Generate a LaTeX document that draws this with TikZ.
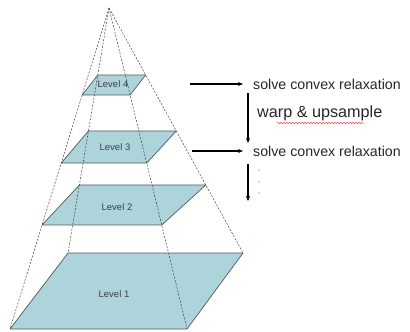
\documentclass[tikz,border=0pt]{standalone}
\usepackage{fontspec}
\setmainfont{Liberation Sans}
\usetikzlibrary{calc,arrows.meta,decorations.pathmorphing}
\definecolor{planefill}{RGB}{172,212,218}
\definecolor{planeedge}{RGB}{80,90,92}
\tikzset{
  plane/.style={fill=planefill,draw=planeedge,line width=0.7pt,line join=round},
  ray/.style={draw=black!75,line width=0.5pt,dash pattern=on 2pt off 1.5pt},
  lvl/.style={font=\fontsize{9.5}{11}\selectfont,text=black!75,inner sep=0pt},
  steptext/.style={font=\fontsize{14.2}{16}\selectfont,text=black!85,inner sep=0pt,anchor=west},
  flow/.style={-{Stealth[length=5pt,width=4pt]},line width=1.3pt,black}
}
\begin{document}
\begin{tikzpicture}[x=1pt,y=-1pt]
\useasboundingbox (0,0) rectangle (410,332);
% pyramid apex and base
\coordinate (A) at (109,8);
\coordinate (BL) at (10,329);
\coordinate (BR) at (187,329);
\coordinate (TL) at (68,253);
\coordinate (TR) at (243,253);
% level 4
\coordinate (l4tl) at ($(A)!0.2735!(TL)$);
\coordinate (l4tr) at ($(A)!0.2735!(TR)$);
\coordinate (l4bl) at ($(A)!0.271!(BL)$);
\coordinate (l4br) at ($(A)!0.271!(BR)$);
% level 3
\coordinate (l3tl) at ($(A)!0.502!(TL)$);
\coordinate (l3tr) at ($(A)!0.502!(TR)$);
\coordinate (l3bl) at ($(A)!0.483!(BL)$);
\coordinate (l3br) at ($(A)!0.483!(BR)$);
% level 2
\coordinate (l2tl) at ($(A)!0.7224!(TL)$);
\coordinate (l2tr) at ($(A)!0.7224!(TR)$);
\coordinate (l2bl) at ($(A)!0.676!(BL)$);
\coordinate (l2br) at ($(A)!0.676!(BR)$);
% planes
\draw[plane] (TL) -- (TR) -- (BR) -- (BL) -- cycle;
\draw[plane] (l2tl) -- (l2tr) -- (l2br) -- (l2bl) -- cycle;
\draw[plane] (l3tl) -- (l3tr) -- (l3br) -- (l3bl) -- cycle;
\draw[plane] (l4tl) -- (l4tr) -- (l4br) -- (l4bl) -- cycle;
% dashed rays
\draw[ray] (A) -- (BL);
\draw[ray] (A) -- (TL);
\draw[ray] (A) -- (TR);
\draw[ray] (A) -- (BR);
% labels
\node[lvl] (L4) at (113,84) {Level 4};
\node[lvl] (L3) at (115,147) {Level 3};
\node[lvl] (L2) at (117,207) {Level 2};
\node[lvl] (L1) at (114,294) {Level 1};
% right side
\coordinate (a1s) at (190,84);
\node[steptext] (s1) at (253,84) {solve convex relaxation};
\coordinate (a2s) at (192,151);
\node[steptext] (s2) at (253,151) {solve convex relaxation};
\draw[flow] (a1s) -- (s1.west -| 243,0);
\draw[flow] (a2s) -- (s2.west -| 243,0);
\coordinate (v1s) at (248,93);
\coordinate (v1e) at (248,143);
\draw[flow] (v1s) -- (v1e);
\node[steptext,font=\fontsize{16.2}{18}\selectfont] (w) at (257,113) {warp \& upsample};
\coordinate (sq1) at (277,123);
\coordinate (sq2) at (363,123);
\draw[red!70,line width=0.5pt,decorate,decoration={snake,amplitude=0.8pt,segment length=3pt}] (sq1) -- (sq2);
\coordinate (v2s) at (248,164);
\coordinate (v2e) at (248,201);
\draw[flow] (v2s) -- (v2e);
\fill[black!70] (259,170) circle (0.7pt) (259,182) circle (0.7pt) (259,193) circle (0.7pt);
\end{tikzpicture}
\end{document}
